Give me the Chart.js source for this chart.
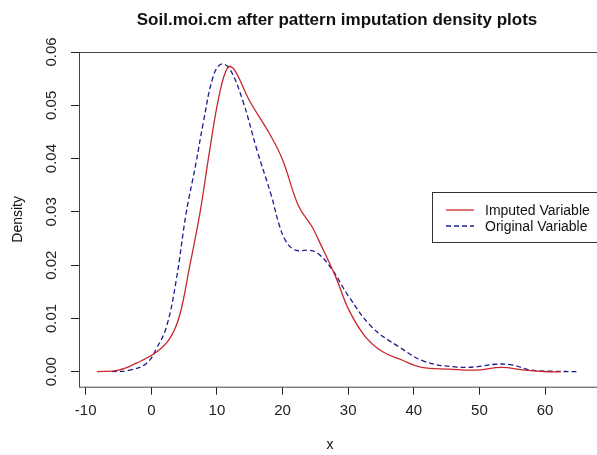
<!DOCTYPE html>
<html>
<head>
<meta charset="utf-8">
<script src="https://cdn.jsdelivr.net/npm/chart.js@4.4.0/dist/chart.umd.min.js"></script>
<style>
  html, body { margin: 0; padding: 0; background: #fff; overflow: hidden; }
  #wrap { width: 610px; height: 455px; }
</style>
</head>
<body>
<div id="wrap"><canvas id="densidad"></canvas></div>
<script>
// densidades
const imputedX = [-8.3, -5, -2.3, 0.8, 2.8, 4.3, 5.8, 7.4, 8.9, 10.4, 11.7, 12.7, 14.9, 18, 20, 22.4, 24.5, 25.5, 28.1, 30.1, 32.6, 35.2, 38.2, 41.2, 45.3, 49.3, 53.4, 56.9, 60.5, 62.4];
const imputedY = [0, 0.0003, 0.0016, 0.0037, 0.0062, 0.0105, 0.0195, 0.0297, 0.0416, 0.0522, 0.0572, 0.0566, 0.0510, 0.0447, 0.0398, 0.0312, 0.0272, 0.0247, 0.0178, 0.0116, 0.0066, 0.0038, 0.0022, 0.0008, 0.0005, 0.0003, 0.0008, 0.0003, 0.0000, 0.0000];

const originalX = [-6, -3.3, -0.7, 0.8, 2.3, 3.8, 5.3, 6.8, 7.9, 9.4, 10.6, 11.9, 13.9, 16.1, 18.3, 19.5, 20.5, 21.5, 22.5, 24, 25.5, 27.6, 30.1, 33.6, 37.7, 41.7, 46.3, 49.3, 52.4, 54.9, 57.9, 61, 65];
const originalY = [0, 0.0003, 0.0016, 0.0044, 0.0084, 0.0172, 0.0297, 0.0391, 0.0466, 0.0553, 0.0577, 0.0569, 0.0510, 0.0416, 0.0330, 0.0275, 0.0245, 0.0231, 0.0227, 0.0228, 0.0221, 0.0191, 0.0141, 0.0084, 0.0047, 0.0019, 0.0009, 0.0009, 0.0014, 0.0013, 0.0003, 0.0001, 0];

const xTicks = [-10, 0, 10, 20, 30, 40, 50, 60];
const yTicks = [0, 0.01, 0.02, 0.03, 0.04, 0.05, 0.06];

const FONT = "'Liberation Sans', Arial, sans-serif";
const toPts = (xs, ys) => xs.map((x, i) => ({ x, y: ys[i] }));

// caja, título, etiqueta x y leyenda al estilo R
const rDecor = {
  id: 'rDecor',
  afterDraw(chart) {
    const { ctx, chartArea: a } = chart;
    ctx.save();
    ctx.strokeStyle = '#444';
    ctx.lineWidth = 1;
    ctx.strokeRect(Math.round(a.left) + 0.5, Math.round(a.top) + 0.5, a.right - a.left, a.bottom - a.top);

    ctx.fillStyle = '#111';
    ctx.textAlign = 'center';
    ctx.textBaseline = 'middle';
    ctx.font = `bold 17px ${FONT}`;
    ctx.fillText('Soil.moi.cm after pattern imputation density plots', 337, 20);
    ctx.font = `14px ${FONT}`;
    ctx.fillText('x', 330, 445);

    // leyenda
    const lx = 432.5, ly = 192.5;
    ctx.strokeStyle = '#333';
    ctx.strokeRect(lx, ly, 200, 50);
    ctx.textAlign = 'left';
    chart.data.datasets.forEach((ds, i) => {
      const yy = 210 + i * 16;
      ctx.strokeStyle = ds.borderColor;
      ctx.lineWidth = 1.3;
      ctx.setLineDash(ds.borderDash || []);
      ctx.beginPath();
      ctx.moveTo(446, yy);
      ctx.lineTo(474, yy);
      ctx.stroke();
      ctx.setLineDash([]);
      ctx.fillStyle = '#111';
      ctx.fillText(ds.label, 485, yy + 1);
    });
    ctx.restore();
  }
};

new Chart(document.getElementById('densidad'), {
  type: 'line',
  data: {
    datasets: [
      { label: 'Imputed Variable', data: toPts(imputedX, imputedY), borderColor: '#C8282D', borderWidth: 1.3, pointRadius: 0, tension: 0.4 },
      { label: 'Original Variable', data: toPts(originalX, originalY), borderColor: '#1C1C8E', borderWidth: 1.3, borderDash: [5, 3], pointRadius: 0, tension: 0.4 }
    ]
  },
  options: {
    responsive: true,
    maintainAspectRatio: false,
    animation: false,
    layout: { padding: { top: 52, left: 0, right: 0, bottom: 0 } },
    plugins: { legend: { display: false }, tooltip: { enabled: false }, title: { display: false } },
    scales: {
      x: {
        type: 'linear',
        min: -11.02,
        max: 69.9,
        afterBuildTicks: s => { s.ticks = xTicks.map(v => ({ value: v })); },
        afterFit: s => { s.height = 68.3; s.paddingLeft = 0; s.paddingRight = 0; },
        grid: { display: true, drawOnChartArea: false, drawTicks: true, tickLength: 8, color: '#222' },
        border: { display: false },
        ticks: { autoSkip: false, maxRotation: 0, padding: 7, color: '#222', font: { family: FONT, size: 15 } }
      },
      y: {
        min: -0.00281,
        max: 0.06,
        afterBuildTicks: s => { s.ticks = yTicks.map(v => ({ value: v })); },
        afterFit: s => { s.width = 79; s.paddingTop = 0; s.paddingBottom = 0; },
        grid: { display: true, drawOnChartArea: false, drawTicks: true, tickLength: 8, color: '#222' },
        border: { display: false },
        title: { display: true, text: 'Density', color: '#111', padding: { top: 10 }, font: { family: FONT, size: 14 } },
        ticks: {
          autoSkip: false, minRotation: 90, maxRotation: 90, crossAlign: 'center', padding: 5,
          color: '#222', font: { family: FONT, size: 15 },
          callback: v => v.toFixed(2)
        }
      }
    }
  },
  plugins: [rDecor]
});
</script>
</body>
</html>
